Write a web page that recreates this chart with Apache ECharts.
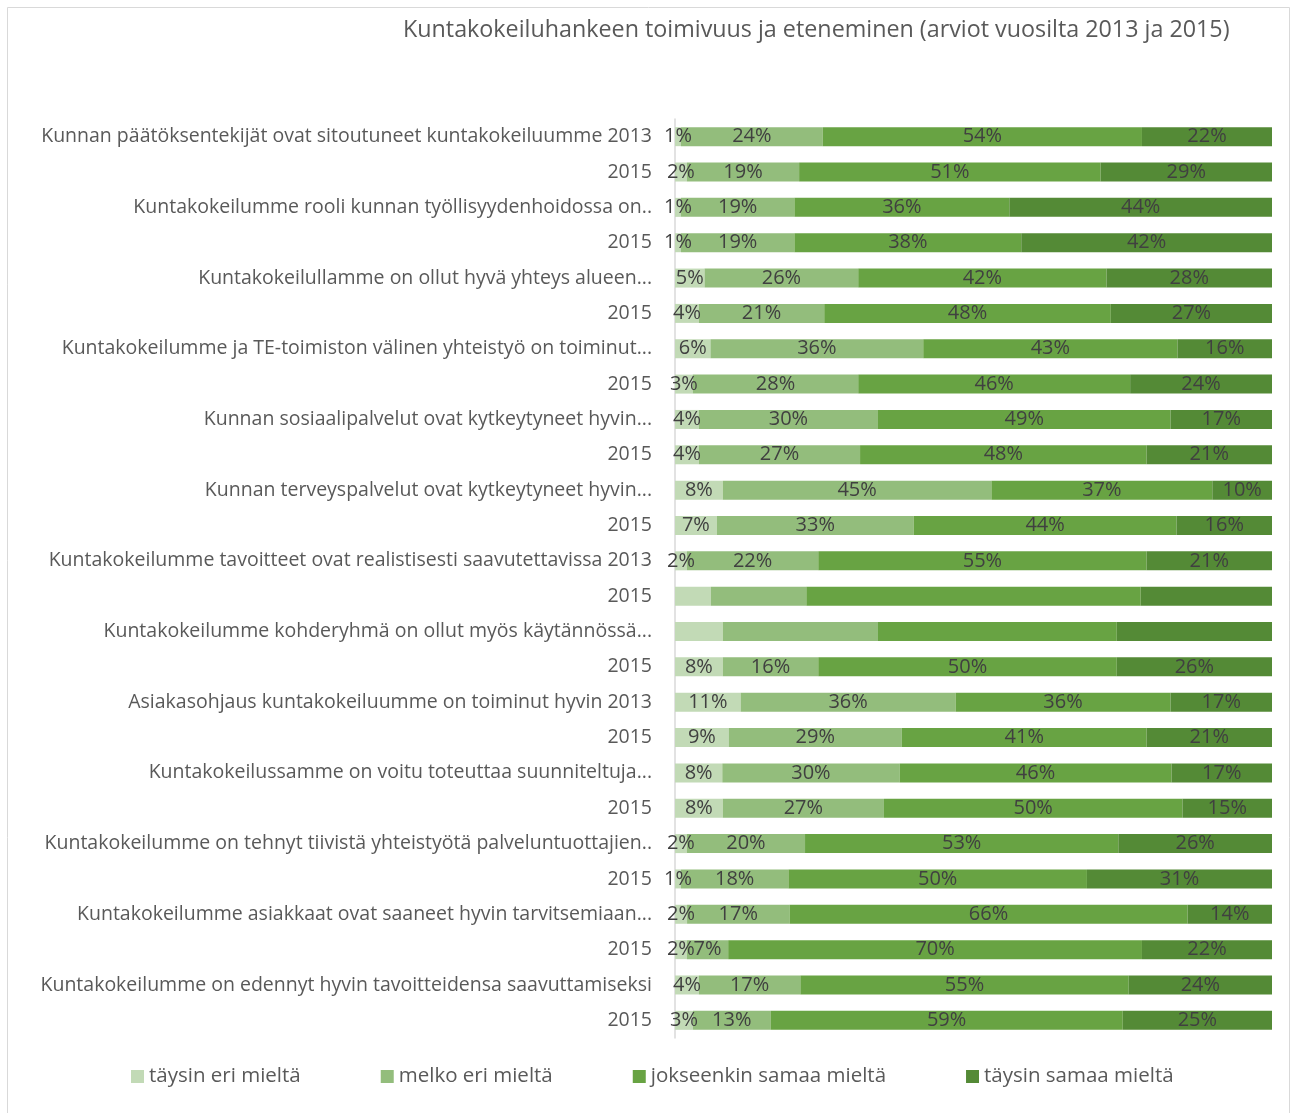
<!DOCTYPE html>
<html>
<head>
<meta charset="utf-8">
<script src="https://cdn.jsdelivr.net/npm/echarts@6/dist/echarts.min.js"></script>
<style>
html,body{margin:0;padding:0;background:#fff;}
#chart{width:1292px;height:1113px;}
</style>
</head>
<body>
<div id="chart"></div>
<script>
const categories = [
  "Kunnan päätöksentekijät ovat sitoutuneet kuntakokeiluumme 2013", "2015",
  "Kuntakokeilumme rooli kunnan työllisyydenhoidossa on..", "2015",
  "Kuntakokeilullamme on ollut hyvä yhteys alueen...", "2015",
  "Kuntakokeilumme ja TE-toimiston välinen yhteistyö on toiminut...", "2015",
  "Kunnan sosiaalipalvelut ovat kytkeytyneet hyvin...", "2015",
  "Kunnan terveyspalvelut ovat kytkeytyneet hyvin...", "2015",
  "Kuntakokeilumme tavoitteet ovat realistisesti saavutettavissa 2013", "2015",
  "Kuntakokeilumme kohderyhmä on ollut myös käytännössä...", "2015",
  "Asiakasohjaus kuntakokeiluumme on toiminut hyvin 2013", "2015",
  "Kuntakokeilussamme on voitu toteuttaa suunniteltuja...", "2015",
  "Kuntakokeilumme on tehnyt tiivistä yhteistyötä palveluntuottajien..", "2015",
  "Kuntakokeilumme asiakkaat ovat saaneet hyvin tarvitsemiaan...", "2015",
  "Kuntakokeilumme on edennyt hyvin tavoitteidensa saavuttamiseksi", "2015"
];
const seriesNames = ["täysin eri mieltä", "melko eri mieltä", "jokseenkin samaa mieltä", "täysin samaa mieltä"];
const taysinEri   = [1, 2, 1, 1, 5, 4, 6, 3, 4, 4, 8, 7, 2, 6, 8, 8, 11, 9, 8, 8, 2, 1, 2, 2, 4, 3];
const melkoEri    = [24, 19, 19, 19, 26, 21, 36, 28, 30, 27, 45, 33, 22, 16, 26, 16, 36, 29, 30, 27, 20, 18, 17, 7, 17, 13];
const jokseenkin  = [54, 51, 36, 38, 42, 48, 43, 46, 49, 48, 37, 44, 55, 56, 40, 50, 36, 41, 46, 50, 53, 50, 66, 70, 55, 59];
const taysinSamaa = [22, 29, 44, 42, 28, 27, 16, 24, 17, 21, 10, 16, 21, 22, 26, 26, 17, 21, 17, 15, 26, 31, 14, 22, 24, 25];
const labelledRows = [1,1,1,1,1,1,1,1,1,1,1,1,1,0,0,1,1,1,1,1,1,1,1,1,1,1];
const colors = ["#C2DAB6", "#93BD7C", "#68A343", "#548A36"];

const raw = [taysinEri, melkoEri, jokseenkin, taysinSamaa];
const sums = categories.map((c, i) => raw.reduce((s, arr) => s + arr[i], 0));

const series = raw.map((arr, k) => ({
  name: seriesNames[k],
  type: 'bar',
  stack: 'total',
  barWidth: 19,
  itemStyle: { color: colors[k] },
  label: {
    show: true,
    position: 'inside',
    color: '#404040',
    fontFamily: 'Open Sans',
    fontSize: 20,
    formatter: p => arr[p.dataIndex] + '%'
  },
  data: arr.map((v, i) => ({
    value: v / sums[i] * 100,
    label: { show: !!labelledRows[i] }
  }))
}));

const chart = echarts.init(document.getElementById('chart'));
chart.setOption({
  animation: false,
  backgroundColor: '#fff',
  title: {
    text: 'Kuntakokeiluhankeen toimivuus ja eteneminen (arviot vuosilta 2013 ja 2015)',
    left: 398,
    top: 14,
    textStyle: { fontFamily: 'Open Sans', fontSize: 23.3, fontWeight: 'normal', color: '#595959' }
  },
  legend: {
    left: 126,
    top: 1061,
    itemWidth: 13,
    itemHeight: 13,
    itemGap: 80,
    icon: 'rect',
    textStyle: { fontFamily: 'Open Sans', fontSize: 20.5, color: '#595959' },
    data: seriesNames
  },
  grid: { left: 675, right: 20, top: 119, bottom: 75, containLabel: false },
  xAxis: { type: 'value', min: 0, max: 100, show: false },
  yAxis: {
    type: 'category',
    inverse: true,
    data: categories,
    axisTick: { show: false },
    axisLine: { show: true, lineStyle: { color: '#d9d9d9', width: 1.5 } },
    axisLabel: { fontFamily: 'Open Sans', fontSize: 19.5, color: '#595959', margin: 23 }
  },
  graphic: [{
    type: 'rect',
    shape: { x: 7.5, y: 7.5, width: 1282, height: 1110 },
    style: { fill: 'none', stroke: '#d9d9d9', lineWidth: 1 },
    silent: true
  }],
  series: series
});
</script>
</body>
</html>
